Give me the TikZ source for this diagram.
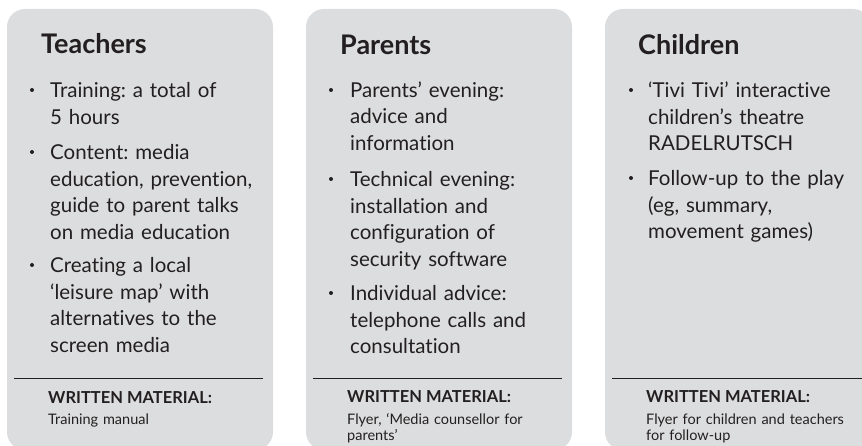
\documentclass[tikz,border=0pt]{standalone}
\usepackage{fontspec}
\setmainfont{Lato}[Ligatures={NoCommon}]
\frenchspacing
\definecolor{boxgray}{HTML}{DCDDDE}
\definecolor{ink}{HTML}{231F20}
\begin{document}
\frenchspacing
\begin{tikzpicture}[x=1pt,y=-1pt,
  panel/.style={fill=boxgray, rounded corners=18pt, draw=none},
  head/.style={anchor=base west, inner sep=0pt, font=\fontsize{27}{30}\selectfont\bfseries, text=ink},
  item/.style={anchor=base west, inner sep=0pt, text width=240pt, align=left, font=\fontsize{20.5}{26.5}\selectfont\frenchspacing, text=ink},
  dot/.style={circle, fill=ink, inner sep=0pt, minimum size=4pt},
  wm/.style={anchor=base west, inner sep=0pt, font=\fontsize{16.5}{18}\selectfont\bfseries, text=ink},
  wmtext/.style={anchor=base west, inner sep=0pt, text width=240pt, align=left, font=\fontsize{14.5}{16}\selectfont\frenchspacing, text=ink},
  rulestyle/.style={draw=ink, line width=1pt}]
\useasboundingbox (0,0) rectangle (862,446);
\clip (0,0) rectangle (862,446);
% panels
\path[panel] (7,9) rectangle (273,450);
\path[panel] (306,9) rectangle (572,450);
\path[panel] (605,9) rectangle (871,450);
% Teachers
\node[head] (th) at (41,54) {Teachers};
\node[dot] (tb1) at (32,90) {};
\node[item] (ti1) at (50,98) {Training: a total of\\5 hours};
\node[dot] (tb2) at (32,152) {};
\node[item] (ti2) at (50,160) {Content: media\\education, prevention,\\guide to parent talks\\on media education};
\node[dot] (tb3) at (32,265) {};
\node[item] (ti3) at (50,273) {Creating a local\\‘leisure map’ with\\alternatives to the\\screen media};
\draw[rulestyle] (14,378) -- (263,378);
\node[wm] (tw) at (48,403) {WRITTEN MATERIAL:};
\node[wmtext] (tm) at (48,424) {Training manual};
% Parents
\node[head] (ph) at (340,55) {Parents};
\node[dot] (pb1) at (331,90) {};
\node[item] (pi1) at (350,97.5) {Parents’ evening:\\advice and\\information};
\node[dot] (pb2) at (331,179) {};
\node[item] (pi2) at (350,187) {Technical evening:\\installation and\\configuration of\\security software};
\node[dot] (pb3) at (331,293) {};
\node[item] (pi3) at (350,301) {Individual advice:\\telephone calls and\\consultation};
\draw[rulestyle] (313,378) -- (562,378);
\node[wm] (pw) at (347,402) {WRITTEN MATERIAL:};
\node[wmtext] (pm) at (347,424) {Flyer, ‘Media counsellor for\\parents’};
% Children
\node[head] (ch) at (638,55) {Children};
\node[dot] (cb1) at (631,90) {};
\node[item] (ci1) at (648,98) {‘Tivi Tivi’ interactive\\children’s theatre\\RADELRUTSCH};
\node[dot] (cb2) at (631,178) {};
\node[item] (ci2) at (648,186) {Follow-up to the play\\(eg, summary,\\movement games)};
\draw[rulestyle] (612,378) -- (871,378);
\node[wm] (cw) at (646,402) {WRITTEN MATERIAL:};
\node[wmtext] (cm) at (646,424) {Flyer for children and teachers\\for follow-up};
\end{tikzpicture}
\end{document}
